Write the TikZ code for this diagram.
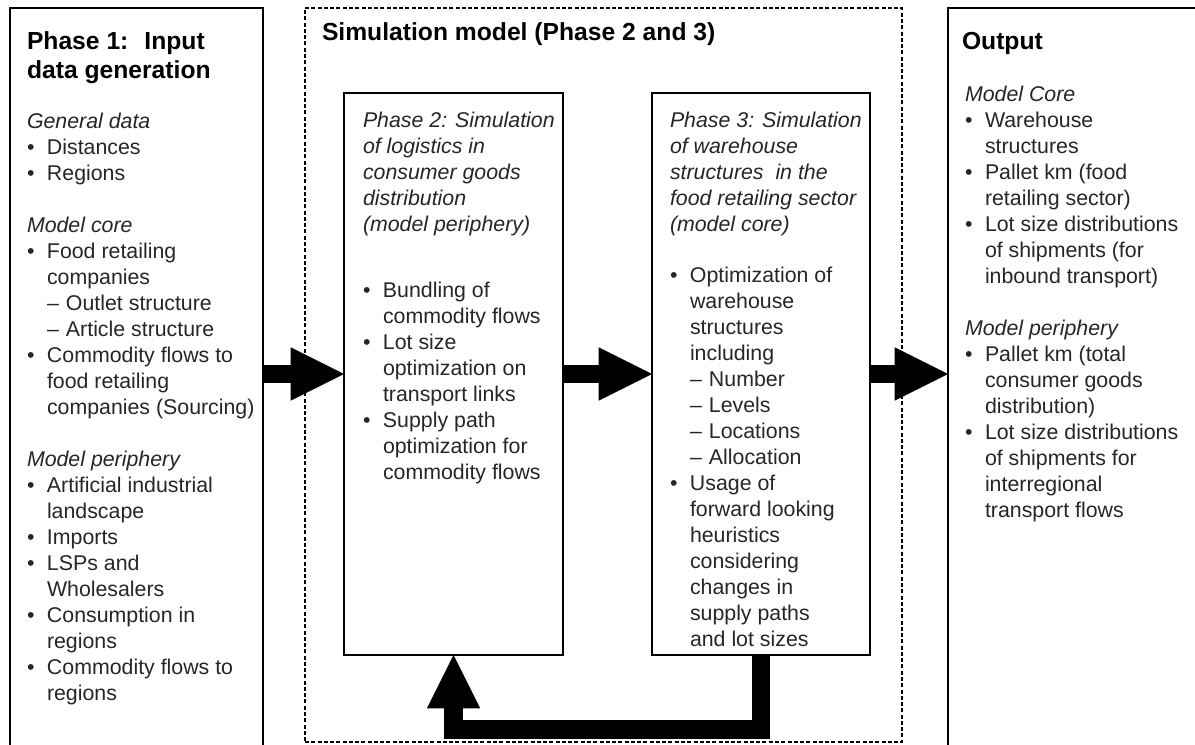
\documentclass[tikz,border=0pt]{standalone}
\usepackage{fontspec}
\setmainfont{Liberation Sans}
\usetikzlibrary{arrows.meta,fit}
\newcommand{\myb}{\makebox[15pt][l]{•}}
\newcommand{\myi}{\hspace*{15pt}}
\newcommand{\myd}{\makebox[14.25pt][l]{–}}
\newcommand{\myfl}{\rule{0pt}{15pt}}
\newcommand{\mytl}{\rule{0pt}{18pt}}
\begin{document}
\begin{tikzpicture}[x=0.75pt, y=-0.75pt,
  box/.style={draw, line width=1.4pt, inner sep=0pt, outer sep=0pt},
  inbox/.style={draw, line width=1.1pt, inner sep=0pt, outer sep=0pt},
  simbox/.style={draw, line width=1.3pt, dash pattern=on 3pt off 1.7pt, inner sep=0pt, outer sep=0pt},
  txt/.style={anchor=north west, align=left, inner sep=0pt, outer sep=0pt, text=black!85, font=\fontsize{16pt}{19.5pt}\selectfont},
  ttl/.style={anchor=north west, align=left, inner sep=0pt, outer sep=0pt, font=\fontsize{18.5pt}{21.75pt}\selectfont\bfseries},
  bigarrow/.style={line width=14pt, line join=miter, -{Triangle[length=40pt,width=40pt,line width=0pt]}}]
\useasboundingbox (0,0) rectangle (1195,745);
\clip (0,0) rectangle (1195,745);
\fill[white] (0,0) rectangle (1195,745);
% boxes
\node[box, fit={(10,8) (263,765)}] (b1) {};
\node[simbox, fit={(305,8) (902,742)}] (sim) {};
\node[inbox, fit={(344,93) (563,655)}] (p2) {};
\node[inbox, fit={(652,93) (870,655)}] (p3) {};
\node[box, fit={(948,8) (1220,765)}] (out) {};
% left box text
\node[ttl] (t1) at (27,26) {\mytl Phase 1: \ Input\\data generation};
\node[txt] (l1) at (27,108) {\myfl\textit{General data}\\
\myb Distances\\
\myb Regions\\[19.5pt]
\textit{Model core}\\
\myb Food retailing\\
\myi companies\\
\myi\myd Outlet structure\\
\myi\myd Article structure\\
\myb Commodity flows to\\
\myi food retailing\\
\myi companies (Sourcing)\\[19.5pt]
\textit{Model periphery}\\
\myb Artificial industrial\\
\myi landscape\\
\myb Imports\\
\myb LSPs and\\
\myi Wholesalers\\
\myb Consumption in\\
\myi regions\\
\myb Commodity flows to\\
\myi regions};
% simulation title
\node[ttl] (st) at (322,17) {\mytl Simulation model (Phase 2 and 3)};
% phase 2
\node[txt, font=\fontsize{16pt}{19.5pt}\selectfont\itshape] (h2) at (363,108) {\myfl Phase 2: Simulation\\of logistics in\\consumer goods\\distribution\\(model periphery)};
\node[txt] (b2) at (363,277) {\myfl\myb Bundling of\\
\myi commodity flows\\
\myb Lot size\\
\myi optimization on\\
\myi transport links\\
\myb Supply path\\
\myi optimization for\\
\myi commodity flows};
% phase 3
\node[txt, font=\fontsize{16pt}{19.5pt}\selectfont\itshape] (h3) at (670,108) {\myfl Phase 3: Simulation\\of warehouse\\structures \ in the\\food retailing sector\\(model core)};
\node[txt] (b3) at (670,262) {\myfl\myb Optimization of\\
\myi warehouse\\
\myi structures\\
\myi including\\
\myi\myd Number\\
\myi\myd Levels\\
\myi\myd Locations\\
\myi\myd Allocation\\
\myb Usage of\\
\myi forward looking\\
\myi heuristics\\
\myi considering\\
\myi changes in\\
\myi supply paths\\
\myi and lot sizes};
% output
\node[ttl] (to) at (962,26) {\mytl Output};
\node[txt] (lo) at (965,81) {\myfl\textit{Model Core}\\
\myb Warehouse\\
\myi structures\\
\myb Pallet km (food\\
\myi retailing sector)\\
\myb Lot size distributions\\
\myi of shipments (for\\
\myi inbound transport)\\[19.5pt]
\textit{Model periphery}\\
\myb Pallet km (total\\
\myi consumer goods\\
\myi distribution)\\
\myb Lot size distributions\\
\myi of shipments for\\
\myi interregional\\
\myi transport flows};
% arrows
\draw[bigarrow] (b1.east |- p2.west) -- (p2.west);
\draw[bigarrow] (p2.east) -- (p3.west);
\draw[bigarrow] (p3.east) -- (out.west |- p3.east);
\draw[bigarrow] (p3.south) -- ++(0,74.5) -| (p2.south);
\end{tikzpicture}
\end{document}
